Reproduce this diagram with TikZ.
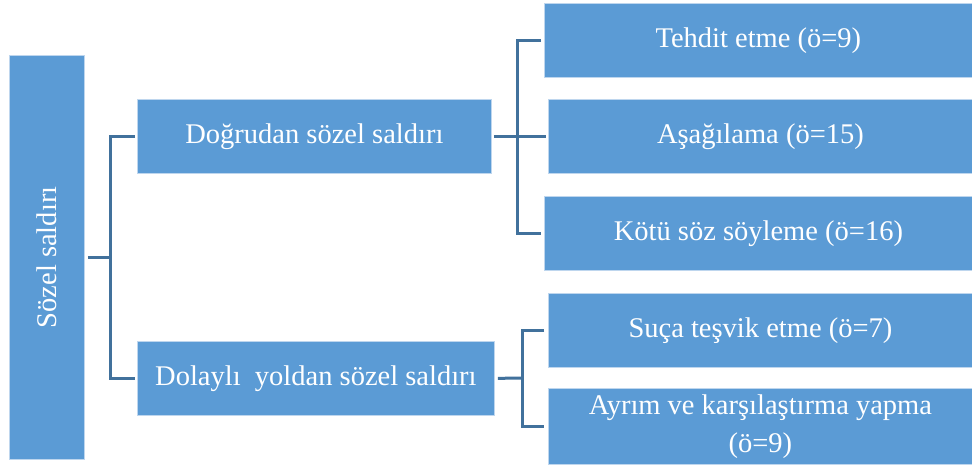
\documentclass[tikz,border=0pt]{standalone}
\usepackage{fontspec}
\setmainfont{Liberation Serif}
\definecolor{boxblue}{RGB}{91,155,213}
\definecolor{boxedge}{RGB}{190,214,238}
\definecolor{connblue}{RGB}{65,113,156}
\begin{document}
\begin{tikzpicture}[x=1pt,y=-1pt,
  box/.style={fill=boxblue, draw=boxedge, line width=0.8pt, text=white, anchor=north west,
    inner sep=0pt, align=center, font=\fontsize{28.5}{38}\selectfont},
  conn/.style={draw=connblue, line width=3pt}]
\useasboundingbox[fill=white] (0,0) rectangle (972,468);
\node[box, minimum width=75pt, minimum height=404pt] (root) at (9,55) {};
\node[rotate=90, text=white, font=\fontsize{28.5}{38}\selectfont] (roottxt) at (root.center) {Sözel saldırı};
\node[box, minimum width=354pt, minimum height=74pt] (l2a) at (137,99) {Doğrudan\ sözel saldırı};
\node[box, minimum width=357pt, minimum height=74pt] (l2b) at (137,341) {Dolaylı\ \ yoldan sözel saldırı};
\node[box, minimum width=428pt, minimum height=74pt] (l3a) at (544,3) {Tehdit etme (ö=9)};
\node[box, minimum width=424pt, minimum height=74pt] (l3b) at (548,99) {Aşağılama (ö=15)};
\node[box, minimum width=428pt, minimum height=74pt] (l3c) at (544,196) {Kötü söz söyleme (ö=16)};
\node[box, minimum width=424pt, minimum height=74pt] (l3d) at (548,293) {Suça teşvik etme (ö=7)};
\node[box, minimum width=424pt, minimum height=76pt] (l3e) at (548,388) {Ayrım ve karşılaştırma yapma\\(ö=9)};
\coordinate (j1) at (110,257);
\coordinate (j2) at (517,136);
\coordinate (j3) at (522,378);
\draw[conn, shorten <=3pt] (root.east |- j1) -- (j1);
\draw[conn, shorten <=2pt, shorten >=2pt] (l2a.west) -| (j1) |- (l2b.west);
\draw[conn, shorten <=2pt, shorten >=2pt] (l2a.east) -- (l3b.west);
\draw[conn, shorten <=3pt, shorten >=3pt] (l3a.west) -| (j2) |- (l3c.west);
\draw[conn, shorten <=3pt] (l2b.east) -- (j3);
\draw[conn, shorten <=4pt, shorten >=4pt] (l3d.west) -| (j3) |- (l3e.west);
\end{tikzpicture}
\end{document}
